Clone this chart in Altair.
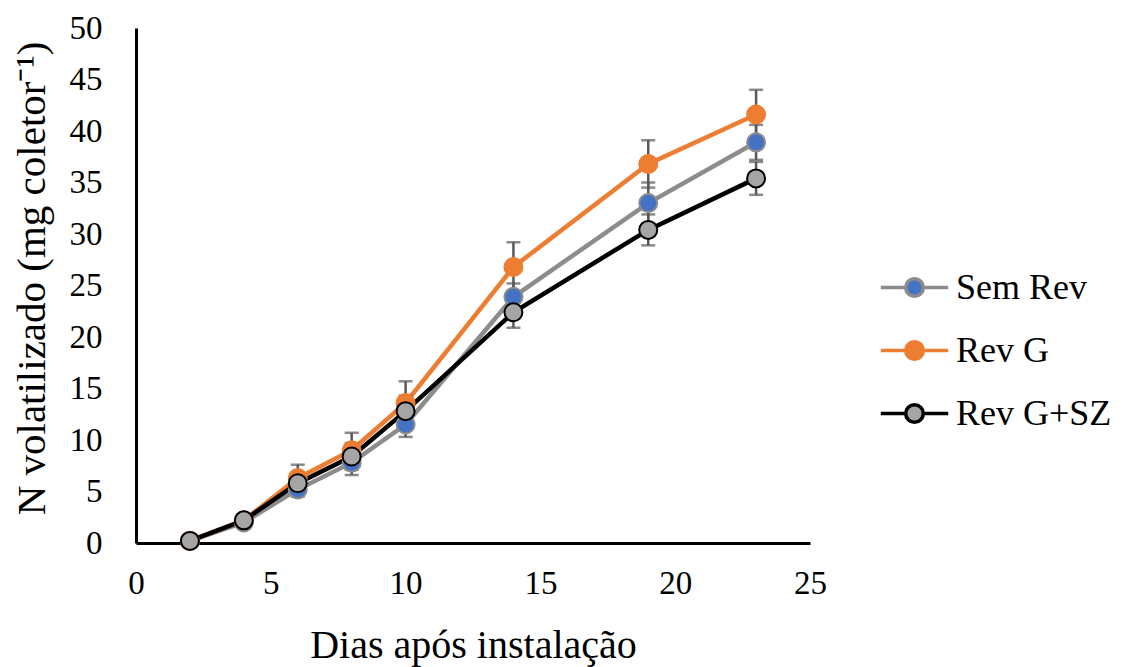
import altair as alt
import pandas as pd

days = [2, 4, 6, 8, 10, 14, 19, 23]
series_names = ["Sem Rev", "Rev G", "Rev G+SZ"]
sem_rev = [0.2, 2.0, 5.2, 7.8, 11.5, 23.9, 33.0, 38.9]
rev_g = [0.2, 2.2, 6.3, 9.0, 13.6, 26.8, 36.8, 41.6]
rev_g_sz = [0.2, 2.2, 5.8, 8.4, 12.8, 22.4, 30.4, 35.4]
err_sem_rev = [0.1, 0.3, 0.7, 1.2, 1.2, 1.3, 2.0, 1.7]
err_rev_g = [0.1, 0.3, 1.3, 1.7, 2.1, 2.4, 2.3, 2.4]
err_rev_g_sz = [0.1, 0.3, 0.8, 1.3, 1.5, 1.5, 1.5, 1.6]

line_colors = ["#8C8C8C", "#ED7D31", "#000000"]
fill_colors = ["#4472C4", "#ED7D31", "#A5A5A5"]

rows = []
for name, vals, errs in zip(series_names, [sem_rev, rev_g, rev_g_sz],
                            [err_sem_rev, err_rev_g, err_rev_g_sz]):
    for d, v, e in zip(days, vals, errs):
        rows.append({"day": d, "value": v, "lo": v - e, "hi": v + e, "series": name})
df = pd.DataFrame(rows)

FONT = "Liberation Serif"

legend_path = ("M-1.07,0H-0.28 M0.28,0H1.07 "
               "M-0.28,0A0.28,0.28 0 1,1 0.28,0A0.28,0.28 0 1,1 -0.28,0Z")
leg = alt.Legend(
    title=None, orient="none", legendX=745, legendY=226,
    symbolType=legend_path, symbolSize=3969, symbolStrokeWidth=3.5,
    labelFont=FONT, labelFontSize=36, labelColor="#000000",
    labelOffset=8, rowPadding=11, padding=0, labelLimit=400,
)

x_enc = alt.X("day:Q", scale=alt.Scale(domain=[0, 25], nice=False),
              axis=alt.Axis(values=[0, 5, 10, 15, 20, 25], title="Dias após instalação",
                            grid=False, ticks=False, tickSize=0, labelPadding=24,
                            labelFlush=False, labelOverlap=False,
                            domainColor="#000000", domainWidth=3,
                            labelFont=FONT, labelFontSize=33, labelColor="#000000",
                            titleFont=FONT, titleFontSize=40, titleFontWeight="normal",
                            titleColor="#000000", titleBaseline="middle", titleY=102))
y_enc = alt.Y("value:Q", scale=alt.Scale(domain=[0, 50], nice=False),
              axis=alt.Axis(values=list(range(0, 51, 5)), title="N volatilizado (mg coletor⁻¹)",
                            grid=False, ticks=False, tickSize=0, labelPadding=34,
                            labelFlush=False, labelOverlap=False,
                            domainColor="#000000", domainWidth=3,
                            labelFont=FONT, labelFontSize=33, labelColor="#000000",
                            titleFont=FONT, titleFontSize=41, titleFontWeight="normal",
                            titleColor="#000000", titleAngle=-90, titleBaseline="middle",
                            titleAlign="center", titleX=-104, titleY=250))

stroke_scale = alt.Scale(domain=series_names, range=line_colors)
fill_scale = alt.Scale(domain=series_names, range=fill_colors)

base = alt.Chart(df)

lines = base.mark_line(strokeWidth=4.5).encode(
    x=x_enc, y=y_enc,
    stroke=alt.Stroke("series:N", scale=stroke_scale, sort=series_names, legend=leg),
    order=alt.Order("day:Q"),
)

err_rules = base.mark_rule(color="#595959", strokeWidth=2.5).encode(
    x="day:Q", y="lo:Q", y2="hi:Q", detail="series:N")
err_caps_hi = base.mark_tick(color="#595959", thickness=2.5, size=14, orient="horizontal").encode(
    x="day:Q", y="hi:Q", detail="series:N")
err_caps_lo = base.mark_tick(color="#595959", thickness=2.5, size=14, orient="horizontal").encode(
    x="day:Q", y="lo:Q", detail="series:N")

points = base.mark_point(shape="circle", filled=True, size=324, strokeWidth=2, opacity=1).encode(
    x="day:Q", y="value:Q",
    fill=alt.Fill("series:N", scale=fill_scale, sort=series_names, legend=leg),
    stroke=alt.Stroke("series:N", scale=stroke_scale, sort=series_names, legend=leg),
)

chart = alt.layer(lines, err_rules, err_caps_hi, err_caps_lo, points).properties(
    width=674, height=515,
    autosize=alt.AutoSizeParams(type="none"),
    padding={"left": 136, "top": 28, "right": 320, "bottom": 124},
    background="#FFFFFF",
).configure_view(stroke=None)

chart.save("out.html", embed_options={"renderer": "svg", "actions": False})
